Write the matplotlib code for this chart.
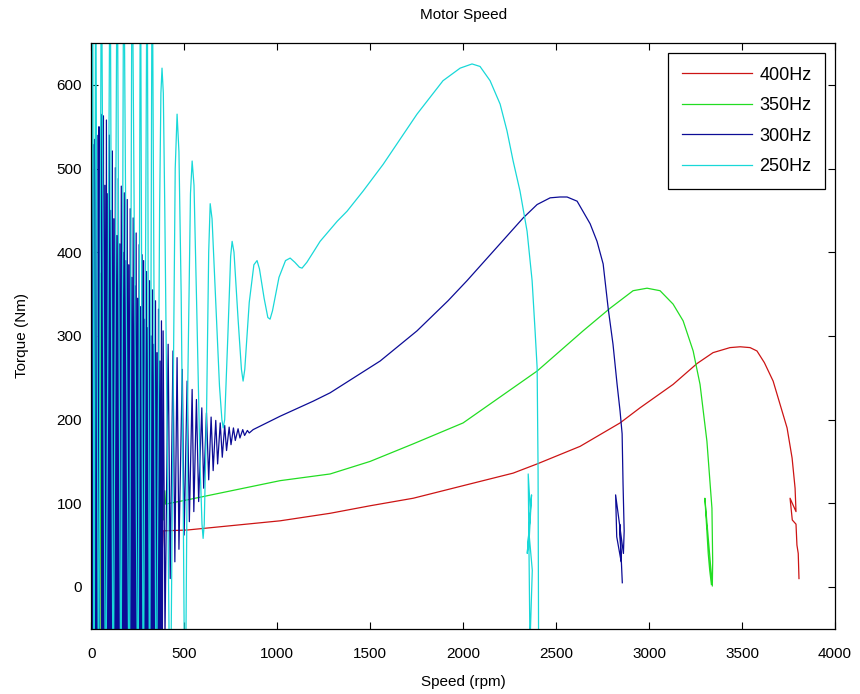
import matplotlib
matplotlib.use("Agg")
import matplotlib.pyplot as plt

# Torque vs speed for four supply frequencies (run-up transient)

# 400 Hz
speed_400 = [0, 6, 18, 30, 42, 54, 66, 78, 90, 102, 114, 126, 138, 150, 162, 174, 186, 198, 210,
             222, 234, 246, 258, 270, 282, 294, 306, 318, 330, 342, 354, 366, 378, 387,
             516, 1016, 1285, 1500, 1732, 2000, 2269, 2398, 2629, 2844, 2951, 3129, 3258, 3344,
             3435, 3490, 3543, 3580, 3620, 3667, 3742, 3769, 3785, 3790, 3758, 3770, 3790, 3795,
             3802, 3806]
torque_400 = [0, 250, -150, 250, -150, 245, -150, 240, -150, 235, -150, 230, -150, 222, -150, 215,
              -150, 207, -150, 200, -150, 190, -150, 180, -150, 170, -130, 160, -100, 145, -60,
              130, 20, 67,
              68, 79, 88, 97, 106, 121, 136, 147, 168, 196, 214, 242, 267, 280,
              286, 287, 286, 282, 268, 246, 190, 154, 118, 90, 106, 80, 75, 50,
              40, 10]

# 350 Hz
speed_350 = [0, 4, 10, 16, 22, 28, 34, 40, 46, 52, 58, 64, 70, 76, 82, 88, 95, 102, 109, 116,
             123, 130, 137, 144, 151, 158, 165, 172, 180, 188, 196, 204, 212, 220, 228, 236, 244,
             252, 260, 268, 276, 284, 292, 300, 308, 316, 324, 332, 340, 348, 356, 364, 372, 380,
             388, 396, 400,
             516, 1016, 1285, 1500, 1732, 2000, 2398, 2645, 2790, 2914, 2989, 3059, 3129, 3183,
             3237, 3274, 3311, 3338, 3342, 3340, 3300, 3310, 3318, 3326, 3335]
torque_350 = [0, 390, -150, 388, -150, 384, -150, 380, -150, 375, -150, 370, -150, 364, -150, 358,
              -150, 350, -150, 342, -150, 334, -150, 325, -150, 316, -150, 306, -140, 296, -130,
              285, -120, 274, -110, 262, -95, 250, -80, 238, -60, 225, -40, 212, -20, 198, 0, 184,
              20, 170, 40, 155, 60, 140, 80, 115, 99,
              104, 127, 135, 150, 171, 196, 258, 306, 333, 354, 357, 354, 338, 318,
              282, 242, 174, 94, 30, 1, 106, 70, 40, 20, 3]

# 300 Hz
speed_300 = [0, 3, 6, 9, 12, 17, 20, 23, 27, 30, 33, 39, 42, 45, 56, 59,
             62, 66, 70, 74, 78, 82, 86, 90, 94, 98, 102, 106, 110, 114, 118, 122,
             126, 130, 134, 138, 142, 146, 150, 154, 158, 162, 166, 170, 174, 178, 182, 186,
             190, 194, 198, 202, 206, 210, 214, 218, 222, 226, 230, 234, 238, 242, 246, 250,
             254, 258, 262, 266, 270, 274, 278, 282, 286, 290, 294, 298, 302, 306, 310, 314,
             318, 322, 326, 330, 334, 338, 342, 346, 350, 354, 358, 362, 366, 370, 374, 378,
             382, 387,
             397, 414, 425, 440, 450, 462, 472, 490, 500, 516, 528, 543, 552, 566, 578, 595,
             605, 620, 632, 645, 656, 670, 680, 694, 705, 718, 728, 742, 752, 765, 775, 790, 800,
             815, 825, 840, 850, 871,
             1016, 1194, 1285, 1554, 1752, 1919, 2021, 2323, 2398, 2468, 2521, 2559, 2613, 2683,
             2720, 2753, 2780, 2806, 2828, 2844, 2855, 2860, 2866, 2862, 2820, 2826, 2850, 2842,
             2856]
torque_300 = [430, -150, -150, 529, -150, -150, 535, -150, -150, 540, -150, -150, 550, -150, -150,
              565,
              -150, 563, -150, 480, -150, 558, -150, 470, -150, 540, -150, 450, -150, 521, -150, 440,
              -150, 501, -150, 420, -150, 488, -150, 410, -150, 479, -150, 400, -150, 471, -150, 390,
              -150, 463, -150, 385, -150, 452, -150, 370, -150, 441, -150, 360, -150, 423, -150, 345,
              -150, 409, -150, 335, -150, 397, -150, 390, -150, 320, -150, 377, -150, 310, -150, 366,
              -150, 300, -150, 355, -150, 290, -150, 342, -150, 280, -150, 332, -150, 270, -150, 318,
              -150, 306,
              -60, 290, 10, 282, 30, 274, 45, 260, 62, 246, 78, 236, 90, 224, 102, 214,
              118, 208, 128, 203, 139, 199, 147, 196, 155, 193, 163, 191, 170, 190, 175, 189, 178,
              188, 181, 187, 184, 188,
              204, 222, 232, 270, 306, 342, 366, 441, 457, 465, 466, 466, 461, 434,
              413, 386, 333, 290, 242, 210, 183, 123, 67, 40, 110, 60, 30, 75,
              5]

# 250 Hz
speed_250 = [0, 8, 16, 24, 40, 55, 78, 102, 118, 140, 160, 175, 205, 220, 252, 265, 280, 301,
             314, 328, 350, 368, 375, 381, 388, 396, 410, 425, 440, 452, 462, 472, 484, 495, 505,
             520, 534, 543, 553, 568, 585, 596, 602, 608, 620, 632, 640, 650, 668, 690, 703, 710,
             718, 735, 750, 758, 768, 790, 808, 817, 826, 850, 875, 892, 905, 930, 950, 962, 975,
             1010, 1045, 1070, 1095, 1120, 1134, 1160, 1200, 1231, 1323, 1376, 1462, 1570, 1752,
             1892, 1984, 2048, 2091, 2145, 2199, 2236, 2269, 2306, 2344, 2371, 2387, 2398, 2403,
             2406, 2360, 2350, 2362, 2345, 2368, 2356, 2372, 2358]
torque_250 = [300, 800, -200, 800, -200, 800, -200, 800, -200, 800, -200, 800, -200, 800, -200,
              800, -200, 800, -200, 800, -200, 450, 590, 620, 590, 450, 150, -200, 200, 500, 565,
              520, 350, 100, -200, 250, 470, 509, 480, 330, 150, 75, 58, 75, 200, 400, 458, 440,
              350, 240, 200, 190, 200, 300, 395, 413, 400, 320, 260, 246, 260, 340, 385, 390, 380,
              345, 322, 320, 330, 370, 390, 393, 388, 382, 381, 388, 402, 413, 437, 449, 473, 505,
              565, 605, 620, 625, 622, 605, 577, 545, 509, 473, 425, 366, 306, 262, 142, -80, -80,
              135, 90, 40, 110, 60, 20, -80]

labels = ['400Hz', '350Hz', '300Hz', '250Hz']
colors = ['#cc1414', '#22dd22', '#0c0c96', '#18d8d8']

plt.rcParams['font.family'] = ['Liberation Sans', 'DejaVu Sans']
plt.rcParams['font.size'] = 11

fig = plt.figure(figsize=(8.6, 6.94), dpi=100)
ax = fig.add_axes([0.106, 0.094, 0.865, 0.844])

series = [(speed_400, torque_400), (speed_350, torque_350),
          (speed_300, torque_300), (speed_250, torque_250)]
for (s, t), lab, col in zip(series, labels, colors):
    ax.plot(s, t, color=col, linewidth=0.9, label=lab)

ax.set_xlim(0, 4000)
ax.set_ylim(-50, 650)
ax.set_xticks(range(0, 4001, 500))
ax.set_yticks(range(0, 601, 100))
ax.tick_params(direction='in', top=True, right=True, length=5, width=0.8)
ax.tick_params(axis='x', pad=13)
ax.tick_params(axis='y', pad=6.5)
for sp in ax.spines.values():
    sp.set_linewidth(0.9)

ax.set_title('Motor Speed', fontsize=11, pad=17)
ax.set_xlabel('Speed (rpm)', labelpad=10)
ax.set_ylabel('Torque (Nm)', labelpad=20)

leg = ax.legend(loc='upper right', fancybox=False, framealpha=1, edgecolor='black',
                borderaxespad=0.55, borderpad=0.75, handlelength=3.9, handletextpad=0.4,
                fontsize=13, labelspacing=0.75)
leg.get_frame().set_linewidth(0.9)

fig.savefig('out.png', dpi=100)
plt.close(fig)
